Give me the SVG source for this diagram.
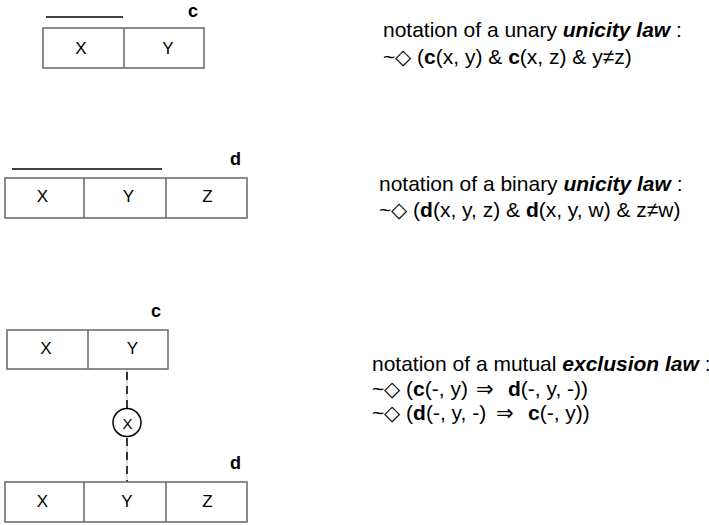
<svg xmlns="http://www.w3.org/2000/svg" width="709" height="525" viewBox="0 0 709 525">
<style>
.box{fill:#fff;stroke:#707070;stroke-width:1.6}
.div{stroke:#707070;stroke-width:1.6}
.bar{stroke:#000;stroke-width:1.6}
.cell{font-family:"Liberation Sans",Arial,sans-serif;font-size:17px;fill:#000;text-anchor:middle}
.name{font-family:"Liberation Sans",Arial,sans-serif;font-size:18px;font-weight:bold;fill:#000}
.t{font-family:"Liberation Sans",Arial,sans-serif;font-size:21px;fill:#000}
.b{font-weight:bold}
.bi{font-weight:bold;font-style:italic}
.ar{font-family:"DejaVu Sans",sans-serif;font-size:21px}
</style>
<g id="c1">
<line class="bar" x1="46" y1="17" x2="123" y2="17"/>
<text class="name" x="188" y="17">c</text>
<rect class="box" x="43" y="28" width="161" height="40"/>
<line class="div" x1="124" y1="28" x2="124" y2="68"/>
<text class="cell" x="81" y="54">X</text>
<text class="cell" x="168" y="54">Y</text>
</g>
<g id="d1">
<line class="bar" x1="12" y1="169" x2="162" y2="169"/>
<text class="name" x="230" y="165">d</text>
<rect class="box" x="5" y="178" width="242" height="40"/>
<line class="div" x1="84" y1="178" x2="84" y2="218"/>
<line class="div" x1="166" y1="178" x2="166" y2="218"/>
<text class="cell" x="42.5" y="202">X</text>
<text class="cell" x="128.5" y="202">Y</text>
<text class="cell" x="207.5" y="202">Z</text>
</g>
<g id="connectors">
<line x1="127" y1="369" x2="127" y2="482" stroke="#b0b0b0" stroke-width="0.8"/>
<line x1="127" y1="372" x2="127" y2="408" stroke="#000" stroke-width="1.5" stroke-dasharray="8,6"/>
<line x1="127" y1="438" x2="127" y2="482" stroke="#000" stroke-width="1.5" stroke-dasharray="8,6"/>
</g>
<g id="c2">
<text class="name" x="151" y="317">c</text>
<rect class="box" x="7" y="330" width="161" height="39"/>
<line class="div" x1="88" y1="330" x2="88" y2="369"/>
<text class="cell" x="46" y="354">X</text>
<text class="cell" x="132.5" y="354">Y</text>
</g>
<g id="excl">
<circle cx="127" cy="422.5" r="14" fill="#fff" stroke="#000" stroke-width="1.5"/>
<text class="cell" x="127.5" y="429" style="font-size:15px">X</text>
</g>
<g id="d2">
<text class="name" x="230" y="469">d</text>
<rect class="box" x="5" y="482" width="242" height="40"/>
<line class="div" x1="84" y1="482" x2="84" y2="522"/>
<line class="div" x1="166" y1="482" x2="166" y2="522"/>
<text class="cell" x="42.5" y="507">X</text>
<text class="cell" x="127" y="507">Y</text>
<text class="cell" x="207.5" y="507">Z</text>
</g>
<g id="texts">
<text class="t" x="383" y="37">notation of a unary <tspan class="bi">unicity law</tspan> :</text>
<text class="t" x="383" y="64">~◇ (<tspan class="b">c</tspan>(x, y) &amp; <tspan class="b">c</tspan>(x, z) &amp; y≠z)</text>
<text class="t" x="379" y="191">notation of a binary <tspan class="bi">unicity law</tspan> :</text>
<text class="t" x="379" y="217">~◇ (<tspan class="b">d</tspan>(x, y, z) &amp; <tspan class="b">d</tspan>(x, y, w) &amp; z≠w)</text>
<text class="t" x="372" y="371">notation of a mutual <tspan class="bi">exclusion law</tspan> :</text>
<text class="t" x="372" y="396">~◇ (<tspan class="b">c</tspan>(-, y) <tspan class="ar" x="476">⇒</tspan> <tspan class="b" x="508">d</tspan>(-, y, -))</text>
<text class="t" x="372" y="420">~◇ (<tspan class="b">d</tspan>(-, y, -) <tspan class="ar" x="496">⇒</tspan> <tspan class="b" x="528">c</tspan>(-, y))</text>
</g>
</svg>
